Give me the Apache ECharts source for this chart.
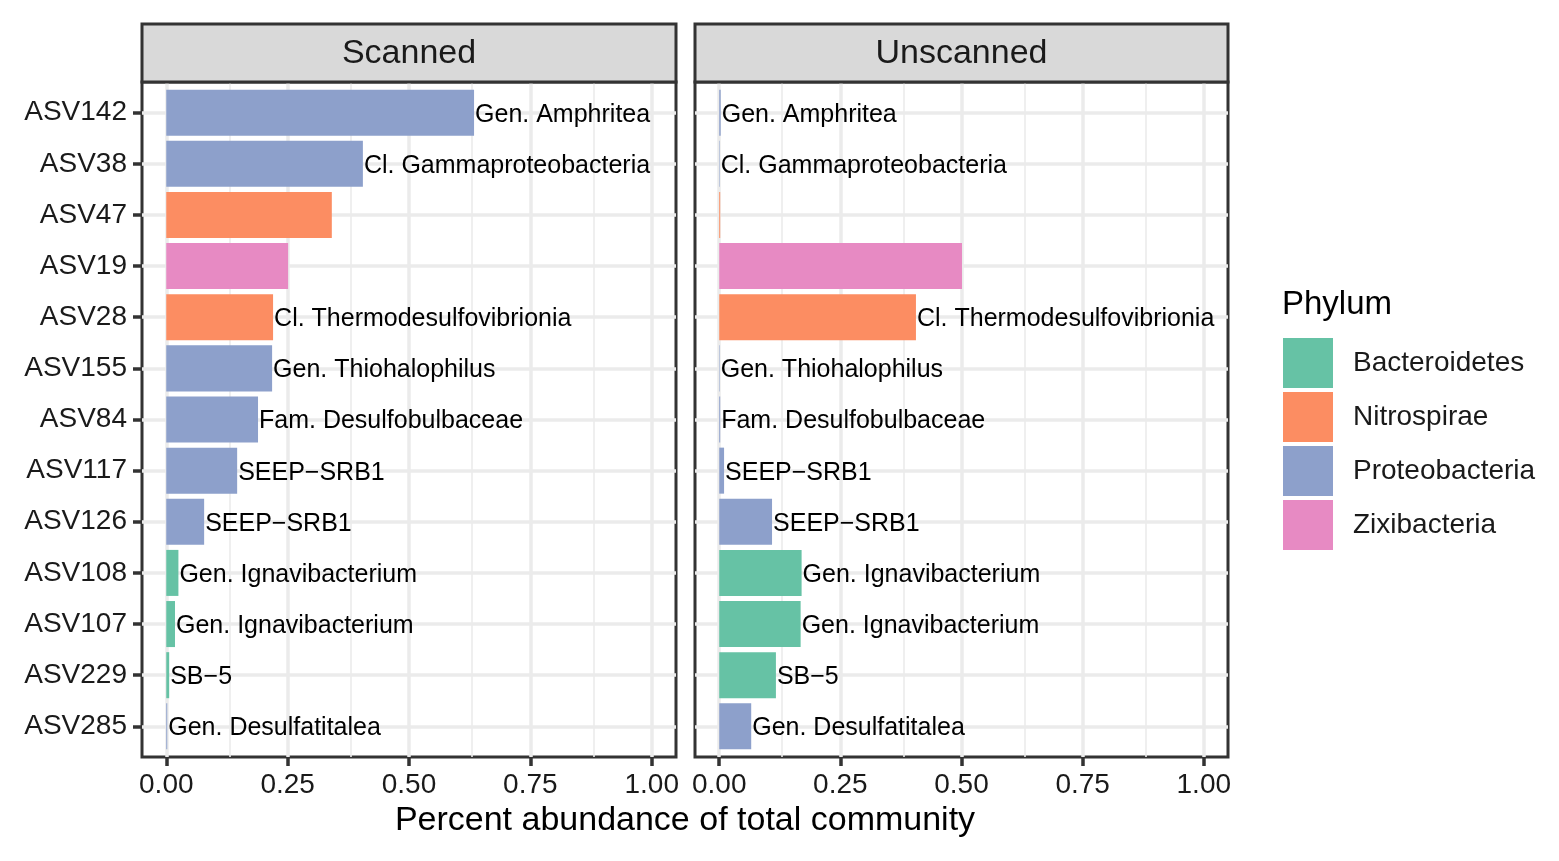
<!DOCTYPE html>
<html>
<head>
<meta charset="utf-8">
<script src="https://cdn.jsdelivr.net/npm/echarts@6/dist/echarts.min.js"></script>
<style>html,body{margin:0;padding:0;background:#fff;}#c{width:1559px;height:861px;}</style>
</head>
<body>
<div id="c"></div>
<script>
// ---- data ----
var categories = ['ASV142','ASV38','ASV47','ASV19','ASV28','ASV155','ASV84','ASV117','ASV126','ASV108','ASV107','ASV229','ASV285'];
var phylumOf  = ['Proteobacteria','Proteobacteria','Nitrospirae','Zixibacteria','Nitrospirae','Proteobacteria','Proteobacteria','Proteobacteria','Proteobacteria','Bacteroidetes','Bacteroidetes','Bacteroidetes','Proteobacteria'];
var taxonLabels = ['Gen. Amphritea','Cl. Gammaproteobacteria',null,null,'Cl. Thermodesulfovibrionia','Gen. Thiohalophilus','Fam. Desulfobulbaceae','SEEP\u2212SRB1','SEEP\u2212SRB1','Gen. Ignavibacterium','Gen. Ignavibacterium','SB\u22125','Gen. Desulfatitalea'];
var scannedValues   = [0.634,0.405,0.341,0.251,0.220,0.218,0.189,0.146,0.078,0.025,0.018,0.006,0.002];
var unscannedValues = [0.003,0.001,0.002,0.501,0.406,0.001,0.002,0.010,0.109,0.170,0.168,0.117,0.066];
var phyla = ['Bacteroidetes','Nitrospirae','Proteobacteria','Zixibacteria'];
var phylaColors = ['#66C2A5','#FC8D62','#8DA0CB','#E78AC3'];
var panelNames = ['Scanned','Unscanned'];
var tickValues = [0, 0.25, 0.5, 0.75, 1.0];
var minorValues = [0.125, 0.375, 0.625, 0.875];

// ---- layout ----
var FONT = '"Liberation Sans", Arial, Helvetica, sans-serif';
var panels = [{left:142, width:534}, {left:695, width:533}];
var pTop = 82, pH = 675;
var unit = pH / (categories.length - 1 + 1.2);
var gTop = pTop + 0.1 * unit, gH = unit * categories.length;

var grids = [], xAxes = [], yAxes = [], series = [], graphics = [];
var panelValues = [scannedValues, unscannedValues];

panels.forEach(function (p, pi) {
  grids.push({left:p.left, top:pTop, width:p.width, height:pH, show:true, backgroundColor:'#fff', borderColor:'#333333', borderWidth:3, z:0});
  grids.push({left:p.left, top:gTop, width:p.width, height:gH, show:false});
  var bgX = xAxes.length;
  xAxes.push({gridIndex:2*pi, type:'value', min:-0.05, max:1.05, splitLine:{show:false},
    axisLine:{show:false},
    axisTick:{show:true, customValues:tickValues, length:9, lineStyle:{color:'#333333', width:3.5}},
    axisLabel:{show:true, customValues:tickValues, margin:12, fontFamily:FONT, fontSize:28, color:'#1a1a1a',
      padding:[2,0,0,0], formatter:function(v){return v.toFixed(2);}}
  });
  var barX = xAxes.length;
  xAxes.push({gridIndex:2*pi+1, type:'value', min:-0.05, max:1.05, show:false, splitLine:{show:false}});
  var bgY = yAxes.length;
  yAxes.push({gridIndex:2*pi, type:'value', min:0, max:1, show:false, splitLine:{show:false}});
  var barY = yAxes.length;
  yAxes.push({gridIndex:2*pi+1, type:'category', data:categories, inverse:true, position:'left',
    axisLine:{show: pi===0, onZero:false, lineStyle:{color:'#333333', width:0.01}},
    axisTick:{show: pi===0, alignWithLabel:true, interval:0, length:9, lineStyle:{color:'#333333', width:3.5}},
    axisLabel:{show: pi===0, interval:0, margin:15, fontFamily:FONT, fontSize:28, color:'#1a1a1a', padding:[4,0,0,0]},
    splitLine:{show:false}
  });
  var vlines = tickValues.map(function(v){return {xAxis:v, lineStyle:{color:'#EBEBEB', width:3.5, type:'solid'}};})
    .concat(minorValues.map(function(v){return {xAxis:v, lineStyle:{color:'#EBEBEB', width:1.6, type:'solid'}};}));
  series.push({type:'line', xAxisIndex:bgX, yAxisIndex:bgY, data:[], silent:true, z:1,
    markLine:{silent:true, z:1, symbol:['none','none'], label:{show:false}, animation:false, data:vlines}});
  var hlines = categories.map(function(c){return {yAxis:c, lineStyle:{color:'#EBEBEB', width:3.5, type:'solid'}};});
  series.push({type:'line', xAxisIndex:barX, yAxisIndex:barY, data:[], silent:true, z:1,
    markLine:{silent:true, z:1, symbol:['none','none'], label:{show:false}, animation:false, data:hlines}});
  var vals = panelValues[pi];
  phyla.forEach(function (ph, k) {
    series.push({
      type:'bar', name:ph, xAxisIndex:barX, yAxisIndex:barY, z:3,
      barWidth:'90%', barGap:'-100%',
      itemStyle:{color:phylaColors[k]},
      data: categories.map(function(c, i){ return phylumOf[i] === ph ? vals[i] : '-'; }),
      label:{show:true, position:'right', distance:1, offset:[0,2], fontFamily:FONT, fontSize:25, color:'#000',
        formatter:function(pr){ var t = taxonLabels[pr.dataIndex]; return t ? t : ''; }},
      emphasis:{disabled:true}
    });
  });
  graphics.push({type:'rect', shape:{x:p.left, y:24, width:p.width, height:pTop-24},
    style:{fill:'#D9D9D9', stroke:'#333333', lineWidth:3}, z:10});
  graphics.push({type:'text', x:p.left + p.width/2, y:54, z:11,
    style:{text:panelNames[pi], fill:'#1a1a1a', font:'34px ' + FONT, textAlign:'center', textVerticalAlign:'middle'}});
});

graphics.push({type:'text', x:685, y:821, z:11,
  style:{text:'Percent abundance of total community', fill:'#000', font:'34px ' + FONT, textAlign:'center', textVerticalAlign:'middle'}});
graphics.push({type:'text', x:1282, y:305, z:11,
  style:{text:'Phylum', fill:'#000', font:'33px ' + FONT, textAlign:'left', textVerticalAlign:'middle'}});

var chart = echarts.init(document.getElementById('c'), null, {renderer:'canvas'});
chart.setOption({
  animation:false,
  backgroundColor:'#fff',
  grid:grids, xAxis:xAxes, yAxis:yAxes, series:series, graphic:graphics,
  legend:{data:phyla, orient:'vertical', left:1283, top:338, padding:0, itemWidth:50, itemHeight:50, itemGap:4,
    icon:'rect', selectedMode:false,
    textStyle:{fontFamily:FONT, fontSize:28, color:'#1a1a1a', padding:[2,0,0,15]}}
});
</script>
</body>
</html>
